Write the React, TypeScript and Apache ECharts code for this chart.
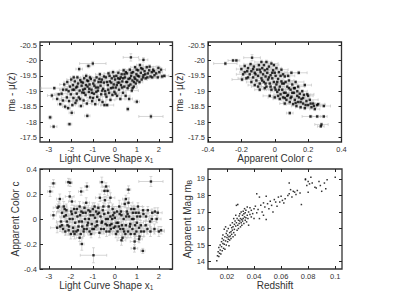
import React, { useEffect, useRef } from "react";
import * as echarts from "echarts";

// Panel 1: light curve shape x1 vs mB - mu(z)  [x1, M, errX, errM]
const shapeMag: number[][] = [
  [-2.94,-18.15,0.08,0.06],[-2.78,-17.85,0.15,0.05],[-2.06,-17.93,0.1,0.05],[-1.25,-18.2,0.12,0.06],
  [1.64,-18.18,0.55,0.07],[1.0,-18.66,0.12,0.06],[0.59,-18.42,0.06,0.06],[-2.86,-18.86,0.2,0.06],
  [0.73,-20.1,0.35,0.12],[1.3,-20.02,0.2,0.07],[1.98,-19.76,0.1,0.06],[2.15,-19.48,0.15,0.06],
  [-1.0,-19.9,0.6,0.07],[-1.62,-19.72,0.15,0.06],[-1.2,-19.82,0.1,0.06],[-2.75,-19.1,0.6,0.05],
  [-2.62,-18.75,0.2,0.06],[-2.48,-18.58,0.12,0.05],[-2.42,-18.92,0.25,0.06],[-2.36,-18.7,0.15,0.05],
  [-2.3,-19.22,0.2,0.06],[-2.26,-18.5,0.12,0.06],[-2.2,-19.05,0.3,0.05],[-2.16,-19.3,0.15,0.06],
  [-2.12,-18.45,0.1,0.05],[-2.08,-18.68,0.2,0.06],[-2.04,-19.15,0.25,0.05],[-2.0,-18.9,0.15,0.06],
  [-1.96,-18.3,0.12,0.07],[-1.98,-19.38,0.2,0.06],[-1.93,-18.55,0.15,0.05],[-1.9,-19.2,0.2,0.05],
  [-1.88,-18.78,0.3,0.06],[-1.85,-19.05,0.15,0.05],[-1.82,-19.32,0.2,0.06],[-1.79,-18.62,0.12,0.05],
  [-1.76,-19.12,0.25,0.06],[-1.73,-18.92,0.2,0.05],[-1.7,-19.45,0.15,0.06],[-1.67,-19.25,0.3,0.05],
  [-1.64,-18.8,0.15,0.06],[-1.6,-19.02,0.2,0.05],[-1.57,-19.36,0.15,0.06],[-1.54,-18.52,0.12,0.05],
  [-1.51,-19.18,0.25,0.06],[-1.48,-18.96,0.2,0.05],[-1.45,-19.28,0.15,0.06],[-1.42,-18.7,0.2,0.05],
  [-1.39,-19.42,0.3,0.06],[-1.36,-19.08,0.15,0.05],[-1.33,-18.88,0.2,0.06],[-1.3,-19.5,0.15,0.06],
  [-1.27,-18.6,0.2,0.05],[-1.24,-19.15,0.25,0.06],[-1.21,-19.33,0.15,0.05],[-1.18,-18.98,0.2,0.06],
  [-1.15,-19.22,0.3,0.05],[-1.12,-18.8,0.15,0.06],[-1.09,-19.4,0.2,0.05],[-1.06,-19.05,0.15,0.06],
  [-1.03,-18.68,0.2,0.05],[-0.98,-19.25,0.25,0.06],[-0.95,-18.92,0.15,0.05],[-0.92,-19.35,0.2,0.06],
  [-0.89,-18.58,0.15,0.05],[-0.86,-19.12,0.3,0.06],[-0.83,-19.45,0.2,0.05],[-0.8,-18.82,0.15,0.06],
  [-0.77,-19.02,0.2,0.05],[-0.74,-19.3,0.25,0.06],[-0.71,-18.72,0.15,0.05],[-0.68,-19.55,0.2,0.06],
  [-0.65,-19.18,0.15,0.05],[-0.62,-18.9,0.3,0.06],[-0.59,-19.38,0.2,0.05],[-0.56,-18.65,0.15,0.06],
  [-0.53,-19.08,0.2,0.05],[-0.5,-19.28,0.25,0.06],[-0.47,-18.55,0.15,0.05],[-0.44,-19.0,0.2,0.06],
  [-0.41,-19.45,0.15,0.05],[-0.38,-18.82,0.2,0.06],[-0.35,-18.55,0.3,0.05],[-0.32,-19.2,0.15,0.06],
  [-0.29,-19.58,0.2,0.05],[-0.26,-18.95,0.15,0.06],[-0.23,-19.32,0.25,0.05],[-0.2,-18.72,0.2,0.06],
  [-0.17,-19.1,0.15,0.05],[-0.14,-19.42,0.2,0.06],[-0.11,-18.88,0.3,0.05],[-0.08,-19.62,0.15,0.06],
  [-0.05,-19.22,0.2,0.05],[-0.02,-18.98,0.15,0.06],[0.01,-19.38,0.2,0.05],[0.04,-19.12,0.25,0.06],
  [0.07,-19.5,0.15,0.05],[0.1,-18.85,0.2,0.06],[0.13,-19.28,0.15,0.05],[0.16,-19.6,0.3,0.06],
  [0.19,-19.05,0.2,0.05],[0.22,-19.4,0.15,0.06],[0.25,-18.75,0.2,0.05],[0.28,-19.2,0.25,0.06],
  [0.31,-19.55,0.15,0.05],[0.34,-19.32,0.2,0.06],[0.37,-18.95,0.15,0.05],[0.4,-19.68,0.2,0.06],
  [0.43,-19.15,0.3,0.05],[0.46,-19.45,0.15,0.06],[0.49,-18.85,0.2,0.05],[0.52,-19.3,0.6,0.06],
  [0.55,-19.58,0.15,0.05],[0.58,-19.1,0.2,0.06],[0.62,-19.4,0.25,0.05],[0.65,-18.75,0.15,0.06],
  [0.68,-19.7,0.2,0.05],[0.71,-19.22,0.15,0.06],[0.74,-19.5,0.2,0.05],[0.77,-19.02,0.3,0.06],
  [0.8,-19.35,0.15,0.05],[0.83,-19.62,0.2,0.06],[0.86,-19.15,0.15,0.05],[0.89,-19.45,0.25,0.06],
  [0.92,-19.78,0.2,0.05],[0.95,-19.25,0.15,0.06],[0.98,-19.55,0.2,0.05],[1.02,-19.35,0.15,0.06],
  [1.06,-19.68,0.3,0.05],[1.1,-19.48,0.2,0.06],[1.14,-19.85,0.15,0.05],[1.18,-19.6,0.2,0.06],
  [1.22,-19.38,0.25,0.05],[1.26,-19.72,0.15,0.06],[1.3,-19.52,0.2,0.05],[1.35,-19.65,0.15,0.06],
  [1.4,-19.42,0.2,0.05],[1.45,-19.78,0.3,0.06],[1.5,-19.58,0.15,0.05],[1.56,-19.68,0.2,0.06],
  [1.62,-19.48,0.6,0.05],[1.68,-19.62,0.15,0.06],[1.74,-19.7,0.2,0.05],[1.8,-19.52,0.15,0.06],
  [1.88,-19.58,0.2,0.05],[2.02,-19.62,0.15,0.06],[2.25,-19.5,0.2,0.05],
  [-2.55,-18.9,0.2,0.05],[-2.35,-19.05,0.15,0.06],[-2.18,-18.8,0.25,0.05],[-2.1,-19.0,0.15,0.06],
  [-1.92,-19.05,0.2,0.05],[-1.87,-19.45,0.15,0.06],[-1.74,-18.7,0.2,0.05],[-1.71,-19.15,0.3,0.06],
  [-1.58,-18.75,0.15,0.05],[-1.52,-19.3,0.2,0.06],[-1.44,-19.05,0.15,0.05],[-1.4,-18.95,0.25,0.06],
  [-1.31,-19.2,0.15,0.05],[-1.26,-19.35,0.2,0.06],[-1.16,-19.08,0.15,0.05],[-1.13,-19.45,0.3,0.06],
  [-1.04,-18.95,0.15,0.05],[-0.99,-18.78,0.2,0.06],[-0.93,-19.18,0.15,0.05],[-0.84,-18.98,0.25,0.06],
  [-0.76,-19.12,0.15,0.05],[-0.7,-19.4,0.2,0.06],[-0.63,-19.3,0.15,0.05],[-0.57,-19.02,0.3,0.06],
  [-0.49,-19.48,0.15,0.05],[-0.43,-18.9,0.2,0.06],[-0.36,-19.3,0.15,0.05],[-0.3,-19.05,0.25,0.06],
  [-0.24,-19.5,0.15,0.05],[-0.16,-19.28,0.2,0.06],[-0.09,-19.12,0.15,0.05],[-0.03,-19.48,0.3,0.06],
  [0.03,-18.92,0.15,0.05],[0.09,-19.2,0.2,0.06],[0.15,-19.42,0.15,0.05],[0.2,-19.28,0.25,0.06],
  [0.27,-19.45,0.15,0.05],[0.33,-19.12,0.2,0.06],[0.38,-19.42,0.15,0.05],[0.44,-19.55,0.3,0.06],
  [0.5,-19.62,0.15,0.05],[0.56,-19.3,0.2,0.06],[0.63,-19.18,0.15,0.05],[0.69,-19.42,0.25,0.06],
  [0.76,-19.6,0.15,0.05],[0.81,-19.1,0.2,0.06],[0.87,-19.3,0.15,0.05],[0.93,-19.4,0.3,0.06],
  [0.99,-19.7,0.15,0.05],[1.04,-19.5,0.2,0.06],[1.12,-19.3,0.15,0.05],[1.2,-19.75,0.25,0.06],
  [1.28,-19.45,0.15,0.05],[1.38,-19.55,0.2,0.06],[1.48,-19.45,0.15,0.05],[1.58,-19.8,0.3,0.06],
  [1.7,-19.45,0.15,0.05],[1.78,-19.65,0.2,0.06],[1.95,-19.45,0.15,0.05],[2.1,-19.7,0.2,0.06],
];

// Panel 2: apparent color c vs mB - mu(z)  [c, M, errC, errM]
const colorMag: number[][] = [
  [-0.296,-19.9,0.07,0.05],[-0.25,-20.0,0.03,0.04],[-0.23,-20.0,0.02,0.04],[-0.136,-20.09,0.05,0.1],
  [-0.196,-19.38,0.06,0.05],[0.09,-18.29,0.02,0.05],[0.214,-18.18,0.05,0.04],[0.254,-18.18,0.03,0.04],
  [0.294,-18.18,0.02,0.04],[0.28,-17.92,0.04,0.05],[0.276,-17.86,0.02,0.04],[0.144,-19.6,0.05,0.05],
  [0.294,-18.52,0.04,0.04],[0.254,-18.55,0.05,0.04],[0.06,-18.78,0.07,0.05],
  [-0.2,-19.72,0.03,0.05],[-0.19,-19.55,0.04,0.05],[-0.18,-19.82,0.03,0.05],[-0.17,-19.42,0.05,0.05],
  [-0.165,-19.65,0.03,0.05],[-0.16,-19.75,0.04,0.05],[-0.15,-19.55,0.03,0.05],[-0.145,-19.88,0.04,0.06],
  [-0.14,-19.65,0.03,0.05],[-0.13,-19.45,0.04,0.05],[-0.125,-19.8,0.03,0.05],[-0.12,-19.6,0.05,0.05],
  [-0.11,-19.35,0.03,0.05],[-0.105,-19.7,0.04,0.05],[-0.1,-19.5,0.03,0.05],[-0.095,-19.85,0.04,0.05],
  [-0.09,-19.25,0.03,0.05],[-0.085,-19.62,0.04,0.05],[-0.08,-19.42,0.03,0.05],[-0.075,-19.75,0.05,0.05],
  [-0.07,-19.55,0.03,0.05],[-0.065,-19.3,0.04,0.05],[-0.06,-19.68,0.03,0.05],[-0.055,-19.48,0.04,0.05],
  [-0.05,-19.15,0.03,0.05],[-0.045,-19.6,0.04,0.05],[-0.04,-19.38,0.03,0.05],[-0.035,-19.8,0.05,0.05],
  [-0.03,-19.25,0.03,0.05],[-0.025,-19.52,0.04,0.05],[-0.02,-19.05,0.03,0.05],[-0.015,-19.42,0.04,0.05],
  [-0.01,-19.68,0.03,0.05],[-0.005,-19.3,0.04,0.05],[0.0,-19.12,0.03,0.05],[0.005,-19.5,0.04,0.05],
  [0.01,-19.22,0.03,0.05],[0.015,-18.98,0.04,0.05],[0.02,-19.4,0.03,0.05],[0.025,-19.62,0.05,0.05],
  [0.03,-19.15,0.03,0.05],[0.035,-18.9,0.04,0.05],[0.04,-19.32,0.03,0.05],[0.045,-19.05,0.04,0.05],
  [0.05,-18.8,0.03,0.05],[0.055,-19.25,0.04,0.05],[0.06,-19.48,0.03,0.05],[0.065,-18.95,0.04,0.05],
  [0.07,-18.72,0.03,0.05],[0.075,-19.15,0.04,0.05],[0.08,-18.88,0.05,0.05],[0.085,-19.35,0.03,0.05],
  [0.09,-18.65,0.04,0.05],[0.095,-19.05,0.03,0.05],[0.1,-18.82,0.04,0.05],[0.105,-19.22,0.03,0.05],
  [0.11,-18.58,0.04,0.05],[0.115,-18.95,0.03,0.05],[0.12,-18.72,0.04,0.05],[0.125,-19.3,0.05,0.05],
  [0.13,-18.52,0.03,0.05],[0.135,-18.85,0.04,0.05],[0.14,-18.65,0.03,0.05],[0.15,-18.92,0.04,0.05],
  [0.155,-18.48,0.03,0.05],[0.16,-18.75,0.04,0.05],[0.17,-18.6,0.03,0.05],[0.175,-18.88,0.04,0.05],
  [0.18,-18.45,0.03,0.05],[0.19,-18.68,0.04,0.05],[0.2,-18.55,0.03,0.05],[0.21,-18.72,0.05,0.05],
  [0.22,-18.48,0.03,0.05],[0.23,-18.6,0.04,0.05],[0.24,-18.42,0.03,0.05],[0.26,-18.58,0.04,0.05],
  [-0.12,-19.2,0.04,0.05],[-0.08,-19.95,0.04,0.06],[-0.06,-19.1,0.03,0.05],[-0.02,-19.9,0.04,0.05],
  [0.01,-19.75,0.03,0.05],[0.03,-18.75,0.04,0.05],[0.05,-19.55,0.03,0.05],[0.08,-19.5,0.04,0.05],
  [0.1,-19.6,0.04,0.05],[0.12,-19.1,0.03,0.05],[0.14,-19.15,0.04,0.05],[0.165,-19.0,0.03,0.05],
  [0.18,-19.2,0.04,0.05],[0.2,-18.85,0.03,0.05],[-0.03,-18.85,0.04,0.05],[0.06,-18.6,0.03,0.05],
  [0.0,-18.8,0.04,0.05],[-0.05,-19.95,0.03,0.06],
  [-0.14,-19.3,0.03,0.05],[-0.13,-19.72,0.04,0.05],[-0.115,-19.55,0.03,0.05],[-0.1,-19.15,0.04,0.05],
  [-0.09,-19.7,0.03,0.05],[-0.075,-19.35,0.04,0.05],[-0.065,-19.85,0.03,0.05],[-0.055,-19.25,0.04,0.05],
  [-0.045,-19.72,0.03,0.05],[-0.035,-19.45,0.04,0.05],[-0.025,-19.15,0.03,0.05],[-0.015,-19.6,0.04,0.05],
  [-0.005,-19.85,0.03,0.05],[0.005,-19.05,0.04,0.05],[0.015,-19.3,0.03,0.05],[0.025,-19.05,0.04,0.05],
  [0.035,-19.5,0.03,0.05],[0.045,-19.25,0.04,0.05],[0.055,-18.95,0.03,0.05],[0.065,-19.3,0.04,0.05],
  [0.075,-18.85,0.03,0.05],[0.085,-19.1,0.04,0.05],[0.095,-18.78,0.03,0.05],[0.105,-18.95,0.04,0.05],
  [0.115,-19.1,0.03,0.05],[0.125,-18.62,0.04,0.05],[0.135,-19.0,0.03,0.05],[0.145,-18.8,0.04,0.05],
  [0.155,-18.65,0.03,0.05],[0.17,-18.78,0.04,0.05],[0.185,-18.55,0.03,0.05],[0.195,-18.9,0.04,0.05],
  [0.215,-18.6,0.03,0.05],[0.235,-18.52,0.04,0.05],[-0.09,-19.05,0.03,0.05],[-0.16,-19.45,0.04,0.05],
  [-0.18,-19.62,0.03,0.05],[0.0,-19.6,0.04,0.05],[0.02,-18.85,0.03,0.05],[0.04,-19.7,0.04,0.05],
];

// Panel 3: light curve shape x1 vs apparent color c  [x1, c, errX, errC]
const shapeColor: number[][] = [
  [-2.79,0.285,0.1,0.03],[-2.94,0.22,0.12,0.04],[-2.11,0.295,0.12,0.03],[-2.03,0.29,0.1,0.03],
  [-1.27,0.26,0.1,0.03],[-0.59,0.295,0.1,0.04],[-0.4,0.26,0.15,0.03],[-0.47,0.225,0.12,0.03],
  [-0.33,0.225,0.1,0.04],[-1.53,0.22,0.12,0.03],[0.62,0.235,0.1,0.03],[1.64,0.3,0.55,0.04],
  [-0.97,-0.29,0.6,0.06],[-1.5,-0.2,0.1,0.05],[0.89,-0.235,0.15,0.03],[1.27,-0.255,0.1,0.02],
  [-2.79,0.03,0.12,0.03],[-2.5,0.16,0.15,0.04],[-2.62,-0.07,0.3,0.04],
  [-2.6,0.09,0.2,0.03],[-2.55,0.1,0.15,0.04],[-2.45,-0.02,0.2,0.03],[-2.4,0.05,0.25,0.04],
  [-2.35,-0.08,0.15,0.03],[-2.3,0.02,0.2,0.04],[-2.25,-0.1,0.15,0.03],[-2.2,0.07,0.3,0.05],
  [-2.15,-0.05,0.2,0.03],[-2.1,-0.09,0.15,0.04],[-2.05,0.0,0.2,0.03],[-2.0,-0.12,0.25,0.04],
  [-1.95,0.04,0.15,0.03],[-1.9,-0.07,0.2,0.04],[-1.85,0.08,0.15,0.03],[-1.8,-0.03,0.3,0.05],
  [-1.75,-0.1,0.2,0.03],[-1.7,0.02,0.15,0.04],[-1.65,-0.06,0.2,0.03],[-1.6,0.1,0.25,0.04],
  [-1.55,-0.12,0.15,0.03],[-1.5,-0.02,0.2,0.04],[-1.45,0.05,0.15,0.03],[-1.4,-0.08,0.3,0.05],
  [-1.35,0.0,0.2,0.03],[-1.3,0.13,0.15,0.04],[-1.25,-0.05,0.2,0.03],[-1.2,0.07,0.25,0.04],
  [-1.15,-0.1,0.15,0.03],[-1.1,0.03,0.2,0.04],[-1.05,-0.04,0.15,0.03],[-1.0,0.08,0.3,0.05],
  [-0.95,-0.08,0.2,0.03],[-0.9,0.01,0.15,0.04],[-0.85,0.06,0.2,0.03],[-0.8,-0.05,0.25,0.04],
  [-0.75,0.09,0.15,0.03],[-0.7,-0.11,0.2,0.04],[-0.65,0.02,0.15,0.03],[-0.6,-0.03,0.3,0.05],
  [-0.55,0.07,0.2,0.03],[-0.5,-0.08,0.15,0.04],[-0.45,0.15,0.2,0.03],[-0.4,0.0,0.25,0.04],
  [-0.35,-0.05,0.15,0.03],[-0.3,0.05,0.2,0.04],[-0.25,-0.1,0.15,0.03],[-0.2,0.02,0.3,0.05],
  [-0.15,-0.04,0.2,0.03],[-0.1,0.08,0.15,0.04],[-0.05,-0.07,0.2,0.03],[0.0,0.01,0.25,0.04],
  [0.05,-0.12,0.15,0.03],[0.1,0.06,0.2,0.04],[0.15,-0.03,0.15,0.03],[0.2,0.1,0.3,0.05],
  [0.25,-0.08,0.2,0.03],[0.3,0.03,0.15,0.04],[0.35,-0.15,0.2,0.03],[0.4,0.0,0.25,0.04],
  [0.45,0.12,0.15,0.03],[0.5,-0.05,0.2,0.04],[0.55,0.06,0.15,0.03],[0.6,-0.1,0.3,0.05],
  [0.65,0.02,0.2,0.03],[0.7,-0.04,0.15,0.04],[0.75,0.08,0.2,0.03],[0.8,-0.08,0.25,0.04],
  [0.85,0.0,0.15,0.03],[0.9,-0.12,0.2,0.04],[0.95,0.05,0.15,0.03],[1.0,-0.03,0.3,0.05],
  [1.05,0.1,0.2,0.03],[1.1,-0.07,0.15,0.04],[1.15,0.02,0.2,0.03],[1.2,-0.1,0.25,0.04],
  [1.3,0.04,0.15,0.03],[1.4,-0.05,0.2,0.04],[1.5,0.07,0.15,0.03],[1.6,-0.02,0.3,0.05],
  [1.7,0.05,0.2,0.03],[1.8,-0.08,0.15,0.04],[1.9,0.0,0.2,0.03],[2.0,-0.1,0.25,0.04],
  [2.1,-0.09,0.15,0.03],
  [-2.48,-0.06,0.2,0.04],[-2.28,0.08,0.15,0.03],[-2.18,-0.02,0.2,0.04],[-1.98,0.06,0.25,0.03],
  [-1.88,-0.1,0.15,0.04],[-1.78,0.05,0.2,0.03],[-1.68,-0.09,0.15,0.04],[-1.58,0.03,0.3,0.05],
  [-1.48,-0.06,0.2,0.03],[-1.38,0.09,0.15,0.04],[-1.28,-0.08,0.2,0.03],[-1.18,0.0,0.25,0.04],
  [-1.08,-0.12,0.15,0.03],[-0.98,0.03,0.2,0.04],[-0.88,-0.06,0.15,0.03],[-0.78,0.04,0.3,0.05],
  [-0.68,0.17,0.2,0.03],[-0.58,-0.02,0.15,0.04],[-0.48,0.04,0.2,0.03],[-0.38,-0.1,0.25,0.04],
  [-0.28,0.1,0.15,0.03],[-0.18,-0.08,0.2,0.04],[-0.08,0.03,0.15,0.03],[0.02,-0.06,0.3,0.05],
  [0.12,-0.1,0.2,0.03],[0.22,0.04,0.15,0.04],[0.32,-0.05,0.2,0.03],[0.42,-0.1,0.25,0.04],
  [0.52,0.02,0.15,0.03],[0.62,0.13,0.2,0.04],[0.72,-0.12,0.15,0.03],[0.82,0.05,0.3,0.05],
  [0.92,-0.05,0.2,0.03],[1.02,0.02,0.15,0.04],[1.12,-0.14,0.2,0.03],[1.32,-0.1,0.25,0.04],
  [1.42,0.02,0.15,0.03],[1.62,-0.1,0.2,0.04],[1.82,0.06,0.15,0.03],[-2.05,0.18,0.2,0.04],
  [-1.95,0.14,0.15,0.03],[-0.2,0.17,0.2,0.04],[0.5,0.16,0.15,0.03],[0.9,-0.18,0.2,0.04],
  [1.1,-0.16,0.15,0.03],[0.3,-0.17,0.2,0.04],[-1.6,-0.15,0.15,0.03],
  [-2.4,-0.05,0.2,0.03],[-2.32,0.1,0.15,0.04],[-2.22,0.03,0.2,0.03],[-2.08,-0.06,0.25,0.04],
  [-1.92,0.0,0.15,0.03],[-1.83,-0.12,0.2,0.04],[-1.72,0.08,0.15,0.03],[-1.62,-0.02,0.3,0.05],
  [-1.52,0.06,0.2,0.03],[-1.42,-0.1,0.15,0.04],[-1.33,0.05,0.2,0.03],[-1.22,-0.03,0.25,0.04],
  [-1.12,0.06,0.15,0.03],[-1.02,-0.08,0.2,0.04],[-0.92,0.1,0.15,0.03],[-0.82,-0.02,0.3,0.05],
  [-0.72,0.05,0.2,0.03],[-0.62,-0.08,0.15,0.04],[-0.52,0.1,0.2,0.03],[-0.42,-0.04,0.25,0.04],
  [-0.32,0.0,0.15,0.03],[-0.22,-0.05,0.2,0.04],[-0.12,0.0,0.15,0.03],[-0.02,0.05,0.3,0.05],
  [0.08,-0.03,0.2,0.03],[0.18,-0.06,0.15,0.04],[0.28,0.06,0.2,0.03],[0.38,-0.08,0.25,0.04],
  [0.48,-0.12,0.15,0.03],[0.58,0.04,0.2,0.04],[0.68,-0.06,0.15,0.03],[0.78,0.0,0.3,0.05],
  [0.88,0.08,0.2,0.03],[0.98,-0.1,0.15,0.04],[1.08,0.05,0.2,0.03],[1.18,-0.05,0.25,0.04],
  [1.28,0.07,0.15,0.03],[1.48,-0.08,0.2,0.04],[1.68,0.0,0.15,0.03],[1.95,0.05,0.2,0.04],
];

// Panel 4: redshift vs apparent magnitude mB  [z, mB]
const redshiftMag: number[][] = [
  [0.0125,14.05],[0.013,14.35],[0.0135,14.6],[0.014,14.3],[0.014,14.85],[0.0145,14.5],[0.015,15.0],
  [0.015,14.7],[0.0155,14.45],[0.016,15.2],[0.016,14.9],[0.0165,15.4],[0.0165,14.65],[0.017,15.1],
  [0.017,15.6],[0.0175,14.8],[0.0175,15.3],[0.018,15.95],[0.018,15.05],[0.0185,15.5],[0.0185,14.75],
  [0.019,16.1],[0.019,15.25],[0.0195,15.7],[0.0195,15.0],[0.02,15.45],[0.02,15.85],[0.0205,15.2],
  [0.0205,15.6],[0.021,15.35],[0.021,16.0],[0.0215,15.5],[0.0215,14.95],[0.022,15.75],[0.022,15.3],
  [0.0225,16.2],[0.0225,15.55],[0.023,15.8],[0.023,15.4],[0.0235,16.05],[0.0235,15.65],[0.024,16.35],
  [0.024,15.9],[0.0245,15.5],[0.0245,16.1],[0.025,16.6],[0.025,15.75],[0.0255,16.25],[0.0255,15.95],
  [0.026,16.45],[0.026,15.6],[0.0265,16.8],[0.0265,16.15],[0.027,16.35],[0.027,17.4],[0.0275,15.9],
  [0.0275,16.6],[0.028,16.2],[0.028,17.45],[0.0285,16.5],[0.0285,16.0],[0.029,16.75],[0.029,16.3],
  [0.0295,16.9],[0.0295,16.45],[0.03,16.1],[0.03,16.6],[0.0305,16.35],[0.0305,17.0],[0.031,16.55],
  [0.031,16.2],[0.0315,16.8],[0.0315,16.45],[0.032,17.05],[0.032,16.6],[0.0325,16.3],[0.0325,16.9],
  [0.033,16.7],[0.033,17.2],[0.0335,16.5],[0.0335,16.95],[0.034,16.65],[0.034,17.1],[0.0345,16.4],
  [0.035,16.8],[0.035,17.3],[0.0355,16.6],[0.036,17.0],[0.036,16.2],[0.037,16.85],[0.037,17.25],
  [0.038,16.7],[0.038,17.1],[0.039,16.9],[0.04,17.2],[0.04,16.6],[0.041,17.35],[0.042,16.95],
  [0.042,18.1],[0.043,17.15],[0.044,16.6],[0.044,17.9],[0.045,17.4],[0.046,17.0],[0.047,16.8],
  [0.047,17.55],[0.048,17.3],[0.049,17.95],[0.049,16.55],[0.05,17.5],[0.051,17.2],[0.052,17.65],
  [0.053,17.4],[0.054,17.0],[0.055,17.75],[0.056,17.6],[0.057,17.35],[0.058,17.9],[0.059,17.6],
  [0.06,17.95],[0.061,17.7],[0.062,17.55],[0.063,17.8],[0.065,18.0],[0.066,18.1],[0.066,18.75],
  [0.067,18.35],[0.068,17.9],[0.069,18.25],[0.07,18.2],[0.071,18.05],[0.072,18.3],[0.074,18.15],
  [0.075,17.45],[0.078,18.95],[0.078,19.0],[0.079,18.6],[0.08,18.85],[0.08,18.2],[0.081,18.7],
  [0.082,19.1],[0.083,18.75],[0.085,18.5],[0.086,18.45],[0.088,18.85],[0.089,18.6],[0.09,18.25],
  [0.092,18.75],[0.093,18.4],[0.094,18.95],[0.1,19.1],
];

const magTicks = [-20.5, -20, -19.5, -19, -18.5, -18, -17.5];
const shapeTicks = [-3, -2, -1, 0, 1, 2];
const colorTicks = [-0.4, -0.2, 0, 0.2, 0.4];
const zTicks = [0.02, 0.04, 0.06, 0.08, 0.1];
const appMagTicks = [14, 15, 16, 17, 18, 19];

const FONT = "Liberation Sans, Arial, Helvetica, sans-serif";
const TXT = "#333";

const rich = {
  n: { fontSize: 10, fontFamily: FONT, color: TXT },
  s: { fontSize: 6.5, fontFamily: FONT, color: TXT, verticalAlign: "bottom" as const },
};

function errRender(params: any, api: any) {
  const x = api.value(0), y = api.value(1), ex = api.value(2), ey = api.value(3);
  const l = api.coord([x - ex, y]);
  const r = api.coord([x + ex, y]);
  const t = api.coord([x, y - ey]);
  const b = api.coord([x, y + ey]);
  const c = 1.4;
  const style = { stroke: "#c4c4c4", lineWidth: 0.7, fill: null };
  return {
    type: "group",
    children: [
      { type: "line", shape: { x1: l[0], y1: l[1], x2: r[0], y2: r[1] }, style },
      { type: "line", shape: { x1: l[0], y1: l[1] - c, x2: l[0], y2: l[1] + c }, style },
      { type: "line", shape: { x1: r[0], y1: r[1] - c, x2: r[0], y2: r[1] + c }, style },
      { type: "line", shape: { x1: t[0], y1: t[1], x2: b[0], y2: b[1] }, style },
      { type: "line", shape: { x1: t[0] - c, y1: t[1], x2: t[0] + c, y2: t[1] }, style },
      { type: "line", shape: { x1: b[0] - c, y1: b[1], x2: b[0] + c, y2: b[1] }, style },
    ],
  };
}

function mainAxis(grid: number, min: number, max: number, ticks: number[], name: string, gap: number, extra: any = {}) {
  return {
    type: "value", gridIndex: grid, min, max,
    axisLine: { show: false, onZero: false },
    splitLine: { show: false },
    axisTick: { show: true, inside: true, length: 3, customValues: ticks, lineStyle: { color: "#222", width: 1 } },
    axisLabel: { show: true, customValues: ticks, fontSize: 7.5, fontFamily: FONT, color: TXT, margin: 3 },
    name, nameLocation: "middle", nameGap: gap,
    nameTextStyle: { fontSize: 10, fontFamily: FONT, color: TXT, rich },
    ...extra,
  };
}
function mirrorAxis(grid: number, min: number, max: number, ticks: number[], position: string, extra: any = {}) {
  return {
    type: "value", gridIndex: grid, min, max, position,
    axisLine: { show: false, onZero: false },
    splitLine: { show: false },
    axisTick: { show: true, inside: true, length: 3, customValues: ticks, lineStyle: { color: "#222", width: 1 } },
    axisLabel: { show: false },
    ...extra,
  };
}

export default function App() {
  const ref = useRef<HTMLDivElement>(null);
  useEffect(() => {
    if (!ref.current) return;
    const chart = echarts.init(ref.current, null, { renderer: "svg" });
    const gridStyle = { show: true, borderColor: "#333", borderWidth: 1.3, backgroundColor: "#fff" };
    const shapeName = "{n|Light Curve Shape x}{s|1}";
    const magName = "{n|m}{s|B}{n| - μ(z)}";
    const option: any = {
      animation: false,
      backgroundColor: "#fff",
      grid: [
        { left: 40, top: 42, width: 132.5, height: 100, ...gridStyle },
        { left: 208, top: 42, width: 133.5, height: 100, ...gridStyle },
        { left: 40, top: 169, width: 132.5, height: 100, ...gridStyle },
        { left: 208, top: 169, width: 134, height: 100, ...gridStyle },
      ],
      xAxis: [
        mainAxis(0, -3.4, 2.62, shapeTicks, shapeName, 10),
        mainAxis(1, -0.4, 0.4, colorTicks, "Apparent Color c", 10),
        mainAxis(2, -3.4, 2.62, shapeTicks, shapeName, 10),
        mainAxis(3, 0.006, 0.105, zTicks, "Redshift", 10),
        mirrorAxis(0, -3.4, 2.62, shapeTicks, "top"),
        mirrorAxis(1, -0.4, 0.4, colorTicks, "top"),
        mirrorAxis(2, -3.4, 2.62, shapeTicks, "top"),
        mirrorAxis(3, 0.006, 0.105, zTicks, "top"),
      ],
      yAxis: [
        mainAxis(0, -20.6, -17.35, magTicks, magName, 14, { inverse: true }),
        mainAxis(1, -20.6, -17.35, magTicks, magName, 21, { inverse: true }),
        mainAxis(2, -0.4, 0.4, colorTicks, "Apparent Color c", 17),
        mainAxis(3, 13.55, 19.6, appMagTicks, "{n|Apparent Mag m}{s|B}", 11),
        mirrorAxis(0, -20.6, -17.35, magTicks, "right", { inverse: true }),
        mirrorAxis(1, -20.6, -17.35, magTicks, "right", { inverse: true }),
        mirrorAxis(2, -0.4, 0.4, colorTicks, "right"),
        mirrorAxis(3, 13.55, 19.6, appMagTicks, "right"),
      ],
      series: [
        ...[shapeMag, colorMag, shapeColor].flatMap((d, i) => [
          {
            type: "custom", xAxisIndex: i, yAxisIndex: i, data: d, renderItem: errRender,
            encode: { x: 0, y: 1 }, clip: true, silent: true, z: 1,
          },
          {
            type: "scatter", xAxisIndex: i, yAxisIndex: i, data: d.map((p) => [p[0], p[1]]),
            symbol: "rect", symbolSize: 2.4, itemStyle: { color: "#000" }, silent: true, z: 2,
          },
        ]),
        {
          type: "scatter", xAxisIndex: 3, yAxisIndex: 3, data: redshiftMag,
          symbol: "rect", symbolSize: 1.5, itemStyle: { color: "#000" }, silent: true, z: 2,
        },
      ],
    };
    chart.setOption(option);
    return () => chart.dispose();
  }, []);
  return (
    <div
      ref={ref}
      style={{ position: "fixed", left: 0, top: 0, width: 397, height: 299, background: "#fff" }}
    />
  );
}
